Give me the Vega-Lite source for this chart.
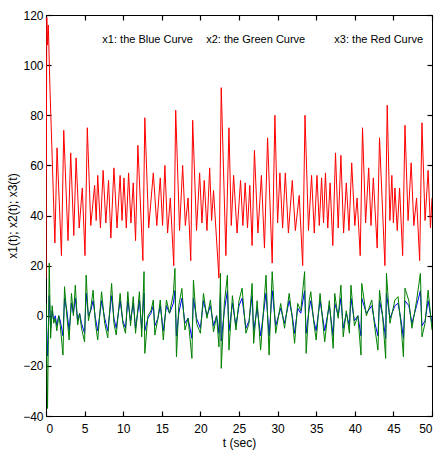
{
  "$schema": "https://vega.github.io/schema/vega-lite/v6.json",
  "width": 386,
  "height": 401,
  "autosize": {"type": "none"},
  "padding": {"left": 46, "top": 15, "right": 6, "bottom": 46},
  "background": "white",
  "config": {
    "font": "Liberation Sans, Arial, sans-serif",
    "view": {"stroke": "#000", "strokeWidth": 1},
    "axis": {
      "grid": false,
      "ticks": true,
      "zindex": 1,
      "domainColor": "#000",
      "tickColor": "#000",
      "labelColor": "#000",
      "titleColor": "#000",
      "labelFont": "Liberation Sans, Arial, sans-serif",
      "titleFont": "Liberation Sans, Arial, sans-serif",
      "labelFontSize": 12,
      "titleFontSize": 12,
      "titleFontWeight": "normal",
      "tickSize": -5,
      "tickWidth": 1.2
    }
  },
  "datasets": {
    "x3": [
      {"t":0,"v":15},{"t":0.1,"v":119},{"t":0.2,"v":108},{"t":0.3,"v":116},{"t":0.5,"v":92},{"t":0.75,"v":68},{"t":1.15,"v":29},{"t":1.43,"v":67},{"t":2.0,"v":24},{"t":2.3,"v":74},{"t":2.85,"v":30},{"t":3.2,"v":65},{"t":3.6,"v":32},{"t":3.9,"v":63},{"t":4.3,"v":35},{"t":4.7,"v":51},{"t":5.05,"v":24},{"t":5.35,"v":75},{"t":5.8,"v":36},{"t":6.3,"v":52},{"t":6.5,"v":38},{"t":6.7,"v":56},{"t":7.05,"v":35},{"t":7.4,"v":58},{"t":7.75,"v":37},{"t":8.1,"v":54},{"t":8.4,"v":31},{"t":8.8,"v":59},{"t":9.2,"v":35},{"t":9.6,"v":56},{"t":9.85,"v":38},{"t":10.1,"v":55},{"t":10.4,"v":35},{"t":10.7,"v":57},{"t":11.0,"v":37},{"t":11.3,"v":53},{"t":11.6,"v":30},{"t":11.9,"v":68},{"t":12.55,"v":22},{"t":12.8,"v":79},{"t":13.3,"v":35},{"t":13.9,"v":57},{"t":14.35,"v":36},{"t":14.8,"v":55},{"t":15.1,"v":36},{"t":15.4,"v":60},{"t":15.75,"v":33},{"t":16.1,"v":47},{"t":16.55,"v":20},{"t":16.8,"v":82},{"t":17.3,"v":34},{"t":17.7,"v":60},{"t":18.05,"v":36},{"t":18.4,"v":47},{"t":18.75,"v":22},{"t":19.0,"v":78},{"t":19.5,"v":34},{"t":19.9,"v":57},{"t":20.2,"v":37},{"t":20.5,"v":54},{"t":20.85,"v":34},{"t":21.2,"v":59},{"t":21.45,"v":38},{"t":21.7,"v":50},{"t":22.4,"v":15},{"t":22.7,"v":91},{"t":23.3,"v":24},{"t":23.7,"v":75},{"t":24.0,"v":36},{"t":24.3,"v":56},{"t":24.75,"v":33},{"t":25.2,"v":54},{"t":25.5,"v":36},{"t":25.8,"v":53},{"t":26.1,"v":35},{"t":26.4,"v":52},{"t":26.7,"v":28},{"t":27.0,"v":66},{"t":27.45,"v":33},{"t":27.9,"v":56},{"t":28.3,"v":27},{"t":28.7,"v":71},{"t":29.3,"v":21},{"t":29.65,"v":80},{"t":30.0,"v":37},{"t":30.3,"v":57},{"t":30.65,"v":35},{"t":31.0,"v":57},{"t":31.4,"v":33},{"t":31.9,"v":54},{"t":32.3,"v":34},{"t":32.8,"v":48},{"t":33.25,"v":20},{"t":33.55,"v":80},{"t":34.0,"v":34},{"t":34.4,"v":56},{"t":34.75,"v":33},{"t":35.1,"v":56},{"t":35.4,"v":36},{"t":35.7,"v":55},{"t":35.95,"v":37},{"t":36.2,"v":57},{"t":36.5,"v":35},{"t":36.8,"v":53},{"t":37.15,"v":28},{"t":37.5,"v":65},{"t":37.85,"v":35},{"t":38.2,"v":64},{"t":38.55,"v":33},{"t":38.9,"v":53},{"t":39.25,"v":34},{"t":39.6,"v":61},{"t":40.0,"v":36},{"t":40.3,"v":47},{"t":40.7,"v":24},{"t":41.0,"v":75},{"t":41.4,"v":37},{"t":41.8,"v":59},{"t":42.1,"v":36},{"t":42.4,"v":55},{"t":42.9,"v":27},{"t":43.2,"v":71},{"t":43.9,"v":20},{"t":44.2,"v":84},{"t":44.55,"v":38},{"t":44.8,"v":56},{"t":45.0,"v":37},{"t":45.2,"v":51},{"t":45.5,"v":34},{"t":45.8,"v":51},{"t":46.2,"v":24},{"t":46.5,"v":76},{"t":46.9,"v":38},{"t":47.3,"v":61},{"t":47.65,"v":36},{"t":48.0,"v":47},{"t":48.4,"v":22},{"t":48.7,"v":77},{"t":49.1,"v":38},{"t":49.5,"v":58},{"t":49.8,"v":35},{"t":50,"v":47}
    ],
    "x12": [
      {"t":0,"g":5,"b":0},{"t":0.2,"g":-37,"b":-16},{"t":0.42,"g":21,"b":8},{"t":0.6,"g":-9,"b":-5},{"t":0.8,"g":4,"b":2},{"t":1.0,"g":-3,"b":-2},{"t":1.2,"g":-1,"b":0},{"t":1.4,"g":-6,"b":-4},{"t":1.65,"g":0,"b":0},{"t":1.85,"g":-4,"b":-2},{"t":2.2,"g":-15.7,"b":-8},{"t":2.4,"g":11.6,"b":7},{"t":2.7,"g":0,"b":2},{"t":3.0,"g":-9.7,"b":-6},{"t":3.3,"g":8.9,"b":5},{"t":3.55,"g":0,"b":1},{"t":3.8,"g":12.2,"b":7},{"t":4.1,"g":-3.7,"b":-2},{"t":4.35,"g":1,"b":1},{"t":4.6,"g":-5,"b":-3},{"t":5.0,"g":-10.4,"b":-7},{"t":5.2,"g":16.2,"b":9},{"t":5.5,"g":-2,"b":0},{"t":5.8,"g":3,"b":2},{"t":6.1,"g":10.2,"b":6},{"t":6.4,"g":-3,"b":-1},{"t":6.7,"g":-9.7,"b":-6},{"t":7.2,"g":9.6,"b":6},{"t":7.6,"g":-3,"b":-1},{"t":8.0,"g":-8.8,"b":-6},{"t":8.5,"g":12.9,"b":8},{"t":8.8,"g":-3,"b":-1},{"t":9.1,"g":-7.7,"b":-5},{"t":9.6,"g":8.9,"b":6},{"t":9.95,"g":-3,"b":-2},{"t":10.3,"g":-7,"b":-5},{"t":10.6,"g":9.6,"b":6},{"t":10.95,"g":-4,"b":-2},{"t":11.3,"g":7.6,"b":5},{"t":11.6,"g":-7,"b":-5},{"t":12.1,"g":9.6,"b":6},{"t":12.4,"g":-8.4,"b":-5},{"t":12.7,"g":17.6,"b":9},{"t":12.8,"g":-15,"b":-6},{"t":13.2,"g":0,"b":-1},{"t":13.6,"g":2,"b":1},{"t":13.9,"g":6.3,"b":4},{"t":14.1,"g":-7.7,"b":-4},{"t":14.5,"g":-1,"b":-1},{"t":14.8,"g":6.3,"b":4},{"t":15.2,"g":-9.7,"b":-6},{"t":15.6,"g":6.3,"b":4},{"t":16.0,"g":1,"b":1},{"t":16.5,"g":8.9,"b":5},{"t":16.7,"g":18.9,"b":10},{"t":16.9,"g":-16.4,"b":-8},{"t":17.2,"g":4,"b":1},{"t":17.6,"g":10.9,"b":7},{"t":18.0,"g":-5.7,"b":-3},{"t":18.4,"g":-1,"b":-1},{"t":18.9,"g":-17,"b":-9},{"t":19.1,"g":14.2,"b":7},{"t":19.5,"g":-3,"b":-1},{"t":20.0,"g":-7,"b":-5},{"t":20.4,"g":8.9,"b":6},{"t":20.85,"g":-1,"b":0},{"t":21.3,"g":6.3,"b":4},{"t":21.7,"g":-6.4,"b":-4},{"t":22.1,"g":0,"b":0},{"t":22.4,"g":-12.4,"b":-7},{"t":22.6,"g":16.9,"b":9},{"t":22.7,"g":-21,"b":-10},{"t":23.1,"g":5,"b":2},{"t":23.5,"g":16.2,"b":10},{"t":23.7,"g":-13.7,"b":-6},{"t":24.15,"g":8,"b":5},{"t":24.6,"g":-5.7,"b":-4},{"t":25.0,"g":6,"b":4},{"t":25.4,"g":11,"b":7},{"t":25.9,"g":-7,"b":-5},{"t":26.3,"g":-3,"b":-2},{"t":26.7,"g":12.9,"b":8},{"t":26.9,"g":-11,"b":-6},{"t":27.35,"g":6,"b":3},{"t":27.8,"g":-13.7,"b":-8},{"t":28.5,"g":16.2,"b":9},{"t":28.9,"g":-15.7,"b":-8},{"t":29.3,"g":17.6,"b":10},{"t":29.75,"g":-7,"b":-4},{"t":30.4,"g":4.9,"b":3},{"t":30.9,"g":-5,"b":-3},{"t":31.5,"g":8.9,"b":6},{"t":31.9,"g":-1,"b":0},{"t":32.2,"g":-11,"b":-7},{"t":32.6,"g":4.9,"b":3},{"t":33.0,"g":2,"b":1},{"t":33.5,"g":17.6,"b":10},{"t":33.7,"g":-15,"b":-7},{"t":34.1,"g":6,"b":3},{"t":34.3,"g":9.6,"b":6},{"t":34.7,"g":-3,"b":-2},{"t":35.0,"g":-9.7,"b":-6},{"t":35.5,"g":8.9,"b":6},{"t":36.1,"g":-10.4,"b":-6},{"t":36.7,"g":6,"b":4},{"t":37.2,"g":-13,"b":-8},{"t":37.4,"g":8.9,"b":5},{"t":37.85,"g":-1,"b":0},{"t":38.2,"g":12.2,"b":7},{"t":38.5,"g":-8.4,"b":-5},{"t":38.9,"g":2,"b":1},{"t":39.3,"g":-7,"b":-4},{"t":39.5,"g":12.2,"b":7},{"t":39.95,"g":-4,"b":-2},{"t":40.4,"g":0,"b":0},{"t":40.8,"g":-15.7,"b":-8},{"t":40.9,"g":12.9,"b":7},{"t":41.5,"g":0,"b":1},{"t":42.2,"g":6.3,"b":4},{"t":42.6,"g":-5,"b":-3},{"t":43.0,"g":-13.7,"b":-8},{"t":43.2,"g":10.2,"b":6},{"t":43.6,"g":0,"b":0},{"t":44.0,"g":-17,"b":-9},{"t":44.1,"g":16.9,"b":9},{"t":44.55,"g":-3,"b":-1},{"t":45.2,"g":6.3,"b":4},{"t":45.6,"g":7.6,"b":5},{"t":46.0,"g":-4,"b":-2},{"t":46.3,"g":-16.4,"b":-9},{"t":46.5,"g":11,"b":6},{"t":47.0,"g":6,"b":4},{"t":47.4,"g":-5,"b":-3},{"t":48.0,"g":6,"b":4},{"t":48.5,"g":16.9,"b":10},{"t":48.7,"g":-8.4,"b":-4},{"t":49.1,"g":-3,"b":-2},{"t":49.5,"g":10.2,"b":6},{"t":50.0,"g":-5.7,"b":-3}
    ],
    "labels": [
      {"label": "x1: the Blue Curve", "t": 7.3, "v": 108.7},
      {"label": "x2: the Green Curve", "t": 20.75, "v": 108.7},
      {"label": "x3: the Red Curve", "t": 37.35, "v": 108.7}
    ]
  },
  "layer": [
    {
      "data": {"name": "x3"},
      "mark": {"type": "line", "color": "#ff0000", "strokeWidth": 1, "clip": true},
      "encoding": {
        "x": {"field": "t", "type": "quantitative", "scale": {"domain": [0, 50], "nice": false, "zero": false},
              "axis": {"orient": "bottom", "values": [0,5,10,15,20,25,30,35,40,45,50], "title": "t (sec)", "labelPadding": 12, "titlePadding": 3}},
        "y": {"field": "v", "type": "quantitative", "scale": {"domain": [-40, 120], "nice": false, "zero": false},
              "axis": {"orient": "left", "values": [-40,-20,0,20,40,60,80,100,120], "title": "x1(t);  x2(t);  x3(t)", "labelPadding": 8, "titlePadding": 3}}
      }
    },
    {
      "data": {"name": "x12"},
      "mark": {"type": "line", "color": "#0000ff", "strokeWidth": 1, "clip": true},
      "encoding": {
        "x": {"field": "t", "type": "quantitative", "scale": {"domain": [0, 50], "nice": false, "zero": false}, "axis": null},
        "y": {"field": "b", "type": "quantitative", "scale": {"domain": [-40, 120], "nice": false, "zero": false}, "axis": null}
      }
    },
    {
      "data": {"name": "x12"},
      "mark": {"type": "line", "color": "#007f00", "strokeWidth": 1, "clip": true},
      "encoding": {
        "x": {"field": "t", "type": "quantitative", "scale": {"domain": [0, 50], "nice": false, "zero": false},
              "axis": {"orient": "top", "values": [0,5,10,15,20,25,30,35,40,45,50], "labels": false, "title": null}},
        "y": {"field": "g", "type": "quantitative", "scale": {"domain": [-40, 120], "nice": false, "zero": false},
              "axis": {"orient": "right", "values": [-40,-20,0,20,40,60,80,100,120], "labels": false, "title": null}}
      }
    },
    {
      "data": {"name": "labels"},
      "mark": {"type": "text", "align": "left", "baseline": "alphabetic", "fontSize": 11, "font": "Liberation Sans, Arial, sans-serif", "color": "#000"},
      "encoding": {
        "text": {"field": "label"},
        "x": {"field": "t", "type": "quantitative", "scale": {"domain": [0, 50], "nice": false, "zero": false}, "axis": null},
        "y": {"field": "v", "type": "quantitative", "scale": {"domain": [-40, 120], "nice": false, "zero": false}, "axis": null}
      }
    }
  ],
  "resolve": {"axis": {"x": "independent", "y": "independent"}}
}
